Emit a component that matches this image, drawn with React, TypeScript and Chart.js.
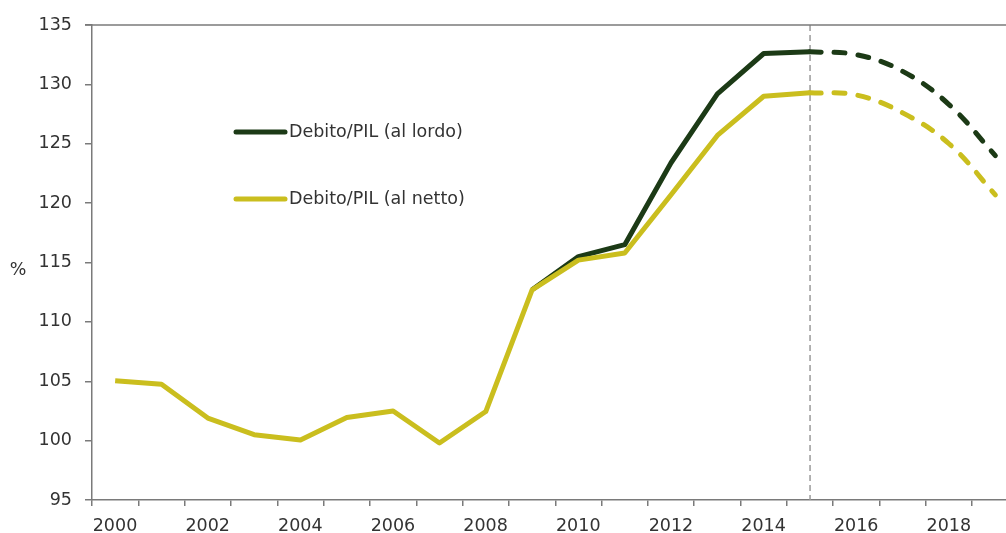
import React, { useEffect, useRef } from "react";
import { Chart, registerables } from "chart.js";

Chart.register(...registerables);

// ---- data ----
const histYears = [2000, 2001, 2002, 2003, 2004, 2005, 2006, 2007, 2008, 2009, 2010, 2011, 2012, 2013, 2014, 2015];
const projYears = [2015, 2016, 2017, 2018, 2019];

// gross and net coincide until 2009 (the gross line is hidden under the net line there)
const grossHist = [null, null, null, null, null, null, null, null, null, 112.7, 115.5, 116.5, 123.4, 129.2, 132.6, 132.75];
const grossProj = [132.75, 132.5, 131.1, 128.3, 124.0];
const netHist = [105.05, 104.75, 101.9, 100.5, 100.05, 101.95, 102.5, 99.8, 102.45, 112.7, 115.2, 115.8, 120.7, 125.7, 129.0, 129.3];
const netProj = [129.3, 129.1, 127.6, 125.0, 120.7];

const tickYears = [2000, 2001, 2002, 2003, 2004, 2005, 2006, 2007, 2008, 2009, 2010, 2011, 2012, 2013, 2014, 2015, 2016, 2017, 2018, 2019];
const xLabels = ["2000", "2002", "2004", "2006", "2008", "2010", "2012", "2014", "2016", "2018"];
const forecastStart = 2015;

const seriesLabels = ["Debito/PIL (al lordo)", "Debito/PIL (al netto)"];
const GREEN = "rgb(28,58,22)";
const YELLOW = "rgb(202,190,30)";
const AXIS = "#7a7a7a";
const TEXT = "#333333";
const FONT = "DejaVu Sans";

const pts = (xs: number[], ys: (number | null)[]) => xs.map((x, i) => ({ x, y: ys[i] }));

const overlay = {
  id: "overlay",
  beforeDatasetsDraw(chart: any) {
    const { ctx, chartArea, scales } = chart;
    const x = scales.x.getPixelForValue(forecastStart);
    ctx.save();
    ctx.strokeStyle = "#9a9a9a";
    ctx.lineWidth = 1.5;
    ctx.setLineDash([6, 4]);
    ctx.beginPath();
    ctx.moveTo(x, chartArea.top);
    ctx.lineTo(x, chartArea.bottom);
    ctx.stroke();
    ctx.restore();
  },
  afterDraw(chart: any) {
    const { ctx, chartArea } = chart;
    ctx.save();
    // top frame line
    ctx.strokeStyle = AXIS;
    ctx.lineWidth = 1.5;
    ctx.beginPath();
    ctx.moveTo(chartArea.left - 7, chartArea.top);
    ctx.lineTo(chartArea.right, chartArea.top);
    ctx.stroke();
    // % label
    ctx.fillStyle = TEXT;
    ctx.font = `17.5px ${FONT}`;
    ctx.textAlign = "center";
    ctx.textBaseline = "middle";
    ctx.fillText("%", 18, 270);
    // legend
    const colors = [GREEN, YELLOW];
    const ys = [132, 199];
    ctx.textAlign = "left";
    seriesLabels.forEach((lab, i) => {
      ctx.strokeStyle = colors[i];
      ctx.lineWidth = 5;
      ctx.lineCap = "round";
      ctx.beginPath();
      ctx.moveTo(236, ys[i]);
      ctx.lineTo(285, ys[i]);
      ctx.stroke();
      ctx.fillStyle = TEXT;
      ctx.fillText(lab, 289, ys[i]);
    });
    ctx.restore();
  },
};

export default function App() {
  const ref = useRef<HTMLCanvasElement | null>(null);
  useEffect(() => {
    if (!ref.current) return;
    Chart.defaults.font.family = FONT;
    const common = { pointRadius: 0, pointHoverRadius: 0, borderWidth: 5, fill: false, borderJoinStyle: "round" as const };
    const chart = new Chart(ref.current, {
      type: "line",
      data: {
        datasets: [
          { ...common, label: seriesLabels[0], data: pts(histYears, grossHist), borderColor: GREEN, tension: 0, order: 1 },
          { ...common, label: seriesLabels[0] + " proj", data: pts(projYears, grossProj), borderColor: GREEN, tension: 0.4, borderDash: [11, 13], borderCapStyle: "round", order: 1 },
          { ...common, label: seriesLabels[1], data: pts(histYears, netHist), borderColor: YELLOW, tension: 0, order: 0 },
          { ...common, label: seriesLabels[1] + " proj", data: pts(projYears, netProj), borderColor: YELLOW, tension: 0.4, borderDash: [11, 13], borderCapStyle: "round", order: 0 },
        ],
      },
      options: {
        animation: false,
        responsive: true,
        maintainAspectRatio: false,
        layout: { padding: { top: 25, left: 0, right: 0, bottom: 0 } },
        plugins: { legend: { display: false }, tooltip: { enabled: false } },
        scales: {
          x: {
            type: "linear",
            min: 1999.5,
            max: 2019.23,
            afterBuildTicks: (scale: any) => {
              scale.ticks = tickYears.map((y) => ({ value: y - 0.5 }));
            },
            afterFit: (scale: any) => {
              scale.height = 33;
            },
            border: { display: true, color: AXIS, width: 1.5 },
            grid: { drawOnChartArea: false, drawTicks: true, tickLength: 6, color: AXIS, lineWidth: 1.5 },
            ticks: {
              autoSkip: false,
              maxRotation: 0,
              minRotation: 0,
              padding: 10,
              labelOffset: 23,
              color: TEXT,
              font: { size: 17.5, family: FONT },
              callback: (v: any) => {
                const s = String(Math.round(Number(v) + 0.5));
                return xLabels.includes(s) ? s : "";
              },
            },
          },
          y: {
            min: 95,
            max: 135,
            afterFit: (scale: any) => {
              scale.width = 92;
            },
            border: { display: true, color: AXIS, width: 1.5 },
            grid: { drawOnChartArea: false, drawTicks: true, tickLength: 7, color: AXIS, lineWidth: 1.5 },
            ticks: {
              stepSize: 5,
              padding: 13,
              color: TEXT,
              font: { size: 17.5, family: FONT },
            },
          },
        },
      },
      plugins: [overlay],
    });
    return () => chart.destroy();
  }, []);
  return (
    <div style={{ position: "absolute", left: 0, top: 0, width: 1006, height: 533, background: "#fff" }}>
      <canvas ref={ref} />
    </div>
  );
}
